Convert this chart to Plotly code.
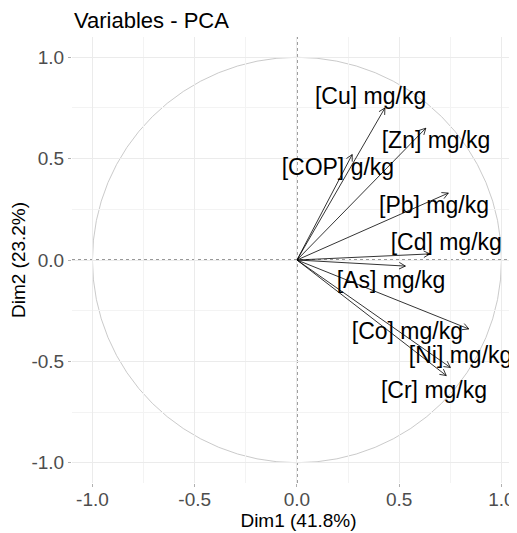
import numpy as np
import plotly.graph_objects as go

# ---- data ----
variables = ["[Cu] mg/kg", "[Zn] mg/kg", "[COP] g/kg", "[Pb] mg/kg", "[Cd] mg/kg",
             "[As] mg/kg", "[Co] mg/kg", "[Ni] mg/kg", "[Cr] mg/kg"]
dim1 = [0.43, 0.63, 0.27, 0.74, 0.65, 0.53, 0.84, 0.75, 0.73]
dim2 = [0.75, 0.65, 0.52, 0.33, 0.03, -0.03, -0.34, -0.53, -0.57]
# label anchor positions (repelled labels)
label_x = [0.36, 0.68, 0.20, 0.67, 0.73, 0.46, 0.54, 0.80, 0.67]
label_y = [0.80, 0.58, 0.45, 0.26, 0.08, -0.11, -0.36, -0.48, -0.65]
tick_vals = [-1.0, -0.5, 0.0, 0.5, 1.0]
tick_text = ["-1.0", "-0.5", "0.0", "0.5", "1.0"]
title = "Variables - PCA"
xlabel = "Dim1 (41.8%)"
ylabel = "Dim2 (23.2%)"

W, H = 517, 533
OFF = 8  # default page body margin
ml, mr, mt, mb = 72 - OFF, 0, 37 - OFF, 58
xr = [-1.1, 1.115]
yr = [-1.1, 1.1]
pxx = (W - ml - mr) / (xr[1] - xr[0])
pxy = (H - mt - mb) / (yr[1] - yr[0])

fig = go.Figure()

# arrow shafts
sx, sy = [], []
for x, y in zip(dim1, dim2):
    sx += [0, x, None]
    sy += [0, y, None]
# open arrowheads (barbs), derived from the tips
hx, hy = [], []
L = 7.0
ang = np.deg2rad(28)
for x, y in zip(dim1, dim2):
    dx, dy = x * pxx, y * pxy
    th = np.arctan2(dy, dx)
    for s in (1, -1):
        a = th + np.pi + s * ang
        bx = x + L * np.cos(a) / pxx
        by = y + L * np.sin(a) / pxy
        hx += [bx, x, None]
        hy += [by, y, None]
fig.add_trace(go.Scatter(x=sx, y=sy, mode="lines", line=dict(color="black", width=0.8),
                         hoverinfo="skip", showlegend=False, cliponaxis=False))
fig.add_trace(go.Scatter(x=hx, y=hy, mode="lines", line=dict(color="black", width=0.8),
                         hoverinfo="skip", showlegend=False, cliponaxis=False))
fig.add_trace(go.Scatter(x=label_x, y=label_y, mode="text", text=variables,
                         textfont=dict(family="Liberation Sans, Arial", size=23, color="black"),
                         hoverinfo="skip", showlegend=False, cliponaxis=False))

shapes = [
    dict(type="circle", xref="x", yref="y", x0=-1, y0=-1, x1=1, y1=1,
         line=dict(color="#BDBDBD", width=0.8), layer="below"),
    dict(type="line", xref="x", yref="paper", x0=0, x1=0, y0=0, y1=1,
         line=dict(color="#333333", width=1, dash="3px,3px"), layer="below"),
    dict(type="line", xref="paper", yref="y", x0=0, x1=1, y0=0, y1=0,
         line=dict(color="#333333", width=1, dash="3px,3px"), layer="below"),
]

axis_common = dict(
    tickvals=tick_vals, ticktext=tick_text, showgrid=True, gridcolor="#EBEBEB", gridwidth=1,
    zeroline=False, showline=False, ticks="outside", ticklen=3, tickcolor="#B0B0B0",
    tickfont=dict(family="Liberation Sans, Arial", size=19, color="#4D4D4D"),
    minor=dict(dtick=0.5, tick0=0.25, showgrid=True, gridcolor="#F3F3F3", gridwidth=0.6, ticks=""),
    automargin=False,
)

fig.update_layout(
    width=W, height=H,
    margin=dict(l=ml, r=mr, t=mt, b=mb, autoexpand=False),
    paper_bgcolor="white", plot_bgcolor="white",
    shapes=shapes,
    title=dict(text=title, x=(74 - OFF) / W, xref="container", xanchor="left",
               y=1 - (20 - OFF) / H, yref="container", yanchor="middle", automargin=False,
               font=dict(family="Liberation Sans, Arial", size=22, color="black")),
    xaxis=dict(range=xr, ticklabelstandoff=-4, title=dict(text=xlabel, standoff=0,
               font=dict(family="Liberation Sans, Arial", size=19, color="black")), **axis_common),
    yaxis=dict(range=yr, title=dict(text=ylabel, standoff=3,
               font=dict(family="Liberation Sans, Arial", size=19, color="black")), **axis_common),
)

fig.write_html("out.html")
